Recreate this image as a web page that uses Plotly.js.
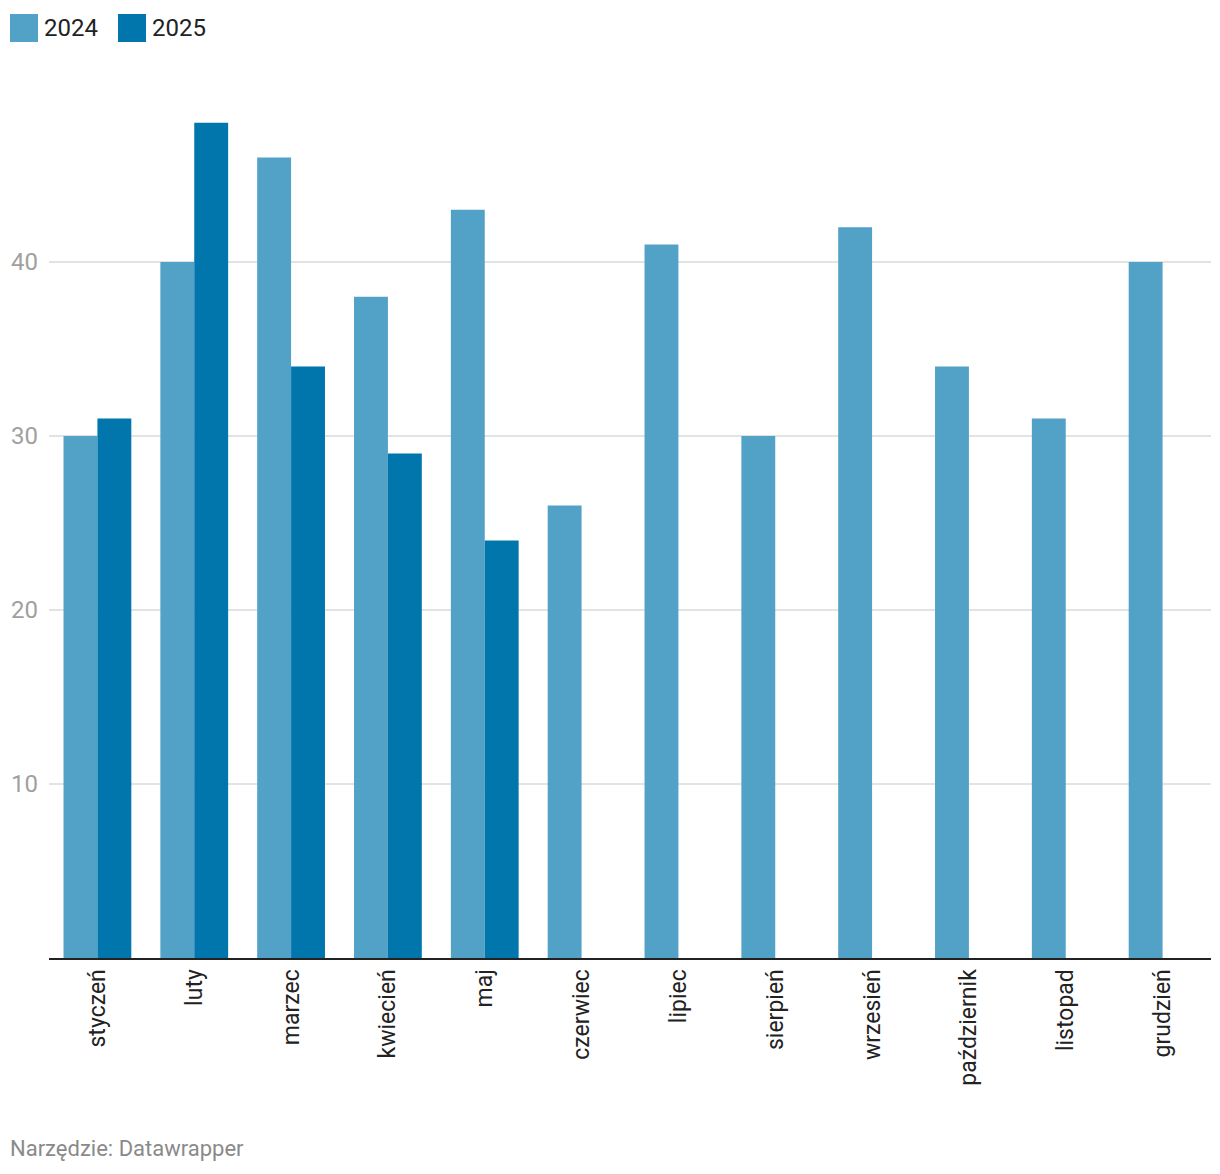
<!DOCTYPE html>
<html>
<head>
<meta charset="utf-8">
<script src="https://cdn.plot.ly/plotly-3.0.1.min.js"></script>
<style>html,body{margin:0;padding:0;background:#fff}#chart{width:1220px;height:1174px}</style>
</head>
<body>
<div id="chart"></div>
<script>
const months = ["styczeń","luty","marzec","kwiecień","maj","czerwiec","lipiec","sierpień","wrzesień","październik","listopad","grudzień"];
const values2024 = [30, 40, 46, 38, 43, 26, 41, 30, 42, 34, 31, 40];
const values2025 = [31, 48, 34, 29, 24, null, null, null, null, null, null, null];
const seriesNames = ["2024", "2025"];
const seriesColors = ["#52a2c8", "#0176ac"];
const yTicks = [10, 20, 30, 40];

const W = 1220, H = 1174;
const L = 49, R = 9, T = 88, B = 216;

const traces = [
  {type: 'bar', x: months, y: values2024, name: seriesNames[0], marker: {color: seriesColors[0]}, hoverinfo: 'x+y'},
  {type: 'bar', x: months, y: values2025, name: seriesNames[1], marker: {color: seriesColors[1]}, hoverinfo: 'x+y'}
];

const legendItems = [{sq: 10, tx: 42}, {sq: 118, tx: 150}];
const shapes = legendItems.map((it, i) => ({
  type: 'rect', xref: 'paper', yref: 'paper', xsizemode: 'pixel', ysizemode: 'pixel',
  xanchor: 0, yanchor: 1,
  x0: it.sq - L, x1: it.sq + 28 - L, y0: T - 42, y1: T - 14,
  fillcolor: seriesColors[i], line: {width: 0}
}));
const annotations = legendItems.map((it, i) => ({
  xref: 'paper', yref: 'paper', x: 0, y: 1, xanchor: 'left', yanchor: 'middle',
  xshift: it.tx - L, yshift: T - 28, text: seriesNames[i], showarrow: false,
  font: {family: 'Roboto', size: 24, color: '#222'}
}));
annotations.push({
  xref: 'paper', yref: 'paper', x: 0, y: 0, xanchor: 'left', yanchor: 'middle',
  xshift: 8 - L, yshift: -(1148 - (H - B)), text: 'Narzędzie: Datawrapper', showarrow: false,
  font: {family: 'Roboto', size: 22, color: '#8a8a8a'}
});

const layout = {
  width: W, height: H,
  margin: {l: L, r: R, t: T, b: B},
  paper_bgcolor: '#fff', plot_bgcolor: '#fff',
  barmode: 'group', bargap: 0.3, bargroupgap: 0,
  showlegend: false,
  font: {family: 'Roboto', color: '#222'},
  xaxis: {
    type: 'category', automargin: false, tickangle: -90,
    tickfont: {family: 'Roboto', size: 23, color: '#222'},
    showline: true, linecolor: '#222', linewidth: 2, ticks: '', showgrid: false, zeroline: false
  },
  yaxis: {
    range: [0, 50], automargin: false, tickvals: yTicks, ticktext: yTicks.map(String),
    tickfont: {family: 'Roboto', size: 24, color: '#a0a0a0'},
    showgrid: true, gridcolor: '#e3e3e3', gridwidth: 1.5, zeroline: false, showline: false, ticks: '',
    ticklabelstandoff: 10
  },
  shapes: shapes,
  annotations: annotations
};

Plotly.newPlot('chart', traces, layout, {displayModeBar: false, staticPlot: true});
</script>
</body>
</html>
